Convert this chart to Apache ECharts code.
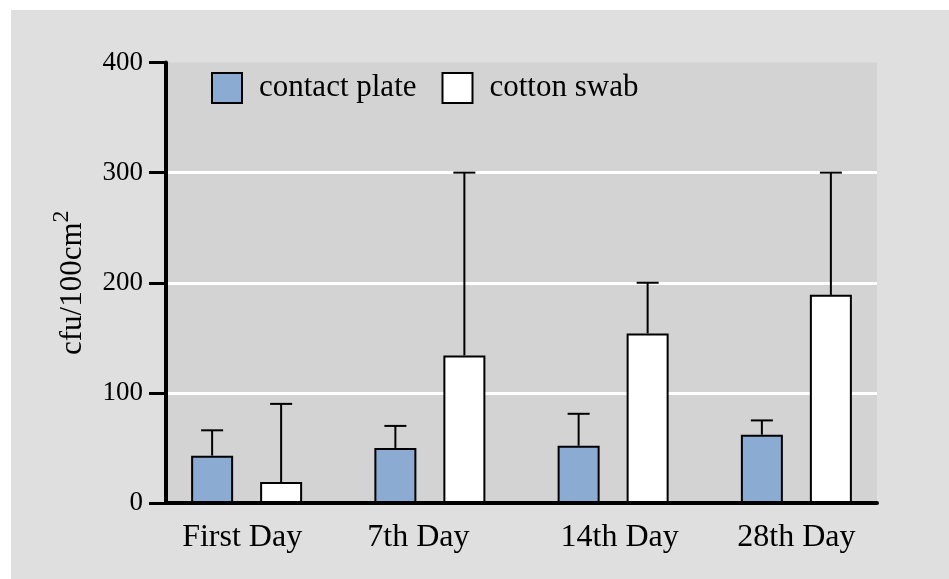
<!DOCTYPE html>
<html>
<head>
<meta charset="utf-8">
<script src="https://cdn.jsdelivr.net/npm/echarts@6/dist/echarts.min.js"></script>
<style>
html,body{margin:0;padding:0;background:#ffffff;}
#bg{position:absolute;left:11px;top:10px;width:938px;height:569px;background:#dfdfdf;}
#chart{position:absolute;left:0;top:0;width:949px;height:579px;}
</style>
</head>
<body>
<div id="bg"></div>
<div id="chart"></div>
<script>
const categories = ['First Day', '7th Day', '14th Day', '28th Day'];
const contactMean = [43, 50, 52, 62];
const contactUpper = [66, 70, 81, 75];
const swabMean = [19, 134, 154, 189];
const swabUpper = [90, 300, 200, 300];
const yTicks = [0, 100, 200, 300, 400];

const FONT = '"Liberation Serif", "Times New Roman", serif';
const BAR_W = 42;
const BAR_GAP = 27;
const OFF = (BAR_W + BAR_GAP) / 2;

function errData(mean, upper) {
  return categories.map((c, i) => [i, upper[i], mean[i]]);
}
function errRender(offset) {
  return function (params, api) {
    const i = api.value(0);
    const top = api.coord([i, api.value(1)]);
    const base = api.coord([i, api.value(2)]);
    const x = top[0] + offset;
    const st = { stroke: '#000', lineWidth: 2 };
    return {
      type: 'group',
      children: [
        { type: 'line', shape: { x1: x, y1: base[1], x2: x, y2: top[1] }, style: st },
        { type: 'line', shape: { x1: x - 11, y1: top[1], x2: x + 11, y2: top[1] }, style: st }
      ]
    };
  };
}

const labelStyle = { fontFamily: FONT, fontSize: 32, color: '#000' };
const labelRich = {
  l0: Object.assign({ padding: [0, 9, 0, 0] }, labelStyle),
  l1: Object.assign({ padding: [0, 23, 0, 0] }, labelStyle),
  l2: Object.assign({ padding: [0, 0, 0, 13] }, labelStyle),
  l3: Object.assign({ padding: [0, 0, 0, 0] }, labelStyle)
};

const chart = echarts.init(document.getElementById('chart'));
chart.setOption({
  animation: false,
  textStyle: { fontFamily: FONT },
  legend: {
    data: ['contact plate', 'cotton swab'],
    left: 211, top: 72, padding: 0,
    icon: 'rect', itemWidth: 30, itemHeight: 30, itemGap: 25,
    textStyle: { fontFamily: FONT, fontSize: 31, color: '#000', padding: [0, 0, 3, 12] }
  },
  grid: [
    { left: 166, right: 72, top: 62.5, bottom: 76, show: true, backgroundColor: '#d3d3d3', borderWidth: 0 },
    { left: 155, right: 61, top: 62.5, bottom: 76 }
  ],
  xAxis: [
    { gridIndex: 0, type: 'value', min: 0, max: 1, z: 10,
      axisLine: { show: true, lineStyle: { color: '#000', width: 4 } },
      axisTick: { show: false }, axisLabel: { show: false }, splitLine: { show: false } },
    { gridIndex: 1, type: 'category', data: categories,
      axisLine: { show: false }, axisTick: { show: false }, splitLine: { show: false },
      axisLabel: Object.assign({ margin: 19, interval: 0, hideOverlap: false, rich: labelRich,
        formatter: function (v, i) { return '{l' + i + '|' + v + '}'; } }, labelStyle) }
  ],
  yAxis: [
    { gridIndex: 0, type: 'value', min: yTicks[0], max: yTicks[yTicks.length - 1], interval: 100, z: 0,
      name: '{a|cfu/100cm}{s|2}', nameLocation: 'middle', nameGap: 78, nameRotate: 90,
      nameTextStyle: {
        rich: {
          a: { fontFamily: FONT, fontSize: 31, color: '#000', verticalAlign: 'bottom', padding: [7, 0, 0, 0] },
          s: { fontFamily: FONT, fontSize: 24, color: '#000', verticalAlign: 'top' }
        }
      },
      axisLine: { show: true, lineStyle: { color: '#000', width: 4 } },
      axisTick: { show: true, length: 17, lineStyle: { color: '#000', width: 3 } },
      axisLabel: { fontFamily: FONT, fontSize: 27, color: '#000', margin: 23 },
      splitLine: { show: true, showMinLine: false, showMaxLine: false, lineStyle: { color: '#ffffff', width: 3 } } },
    { gridIndex: 1, type: 'value', min: yTicks[0], max: yTicks[yTicks.length - 1], interval: 100, show: false,
      splitLine: { show: false } }
  ],
  series: [
    { name: 'contact plate', type: 'bar', xAxisIndex: 1, yAxisIndex: 1, data: contactMean,
      barWidth: BAR_W, barGap: (BAR_GAP / BAR_W * 100) + '%', z: 3,
      itemStyle: { color: '#8cabd3', borderColor: '#000', borderWidth: 2 } },
    { name: 'cotton swab', type: 'bar', xAxisIndex: 1, yAxisIndex: 1, data: swabMean,
      barWidth: BAR_W, z: 3,
      itemStyle: { color: '#ffffff', borderColor: '#000', borderWidth: 2 } },
    { name: 'err1', type: 'custom', xAxisIndex: 1, yAxisIndex: 1, z: 2,
      data: errData(contactMean, contactUpper), renderItem: errRender(-OFF) },
    { name: 'err2', type: 'custom', xAxisIndex: 1, yAxisIndex: 1, z: 2,
      data: errData(swabMean, swabUpper), renderItem: errRender(OFF) }
  ]
});
</script>
</body>
</html>
